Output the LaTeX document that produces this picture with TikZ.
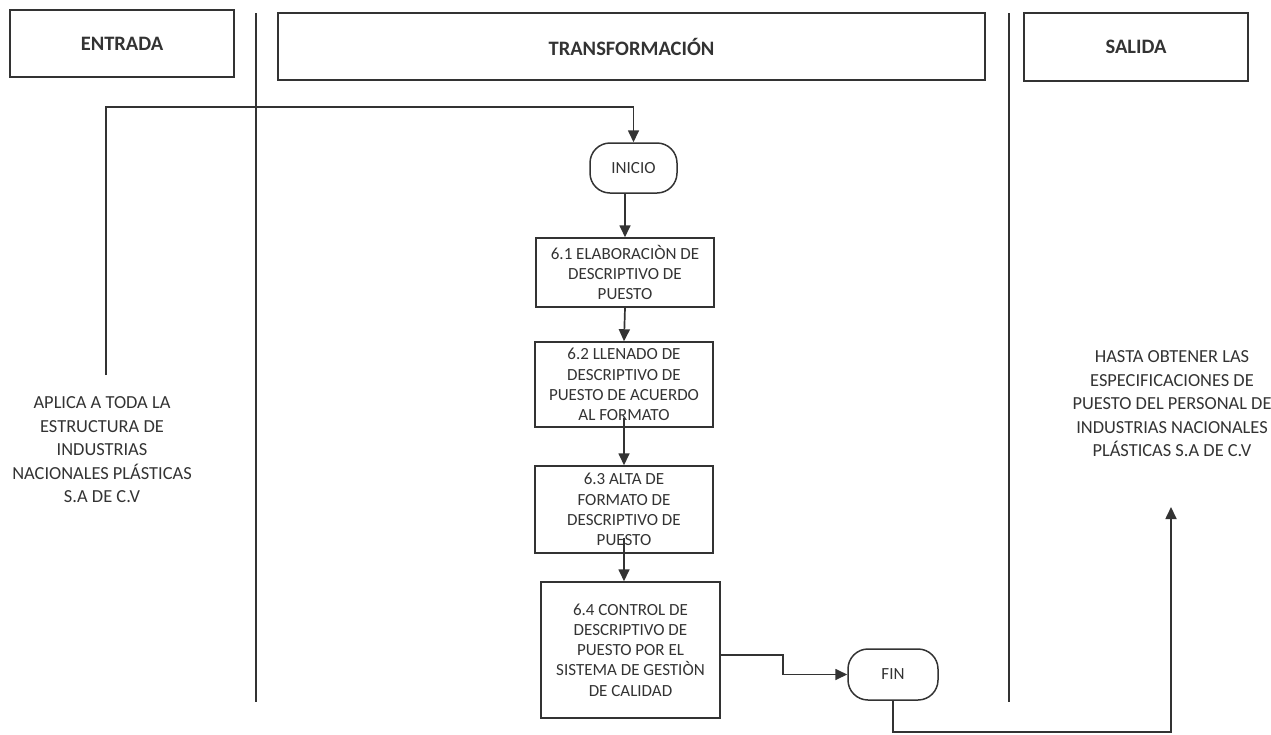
\documentclass[tikz,border=0pt]{standalone}
\usepackage{fontspec}
\setmainfont{Carlito}
\usetikzlibrary{arrows.meta}
\usetikzlibrary{calc}
\colorlet{ink}{black!80}
\tikzstyle{hdr}=[draw=ink,line width=1.5pt,inner sep=0pt,text=ink,font=\fontsize{20.5}{24}\selectfont\bfseries]
\tikzstyle{stepbox}=[draw=ink,line width=1.5pt,inner sep=0pt,align=center,text=ink,font=\fontsize{17}{20.3}\selectfont]
\tikzstyle{term}=[stepbox,rounded corners=20pt]
\tikzstyle{note}=[align=center,text=ink,font=\fontsize{18.4}{23.5}\selectfont]
\tikzstyle{lane}=[line width=1.5pt,draw=ink]
\tikzstyle{arr}=[line width=1.7pt,draw=ink,-{Triangle[length=12pt,width=11pt]}]

\begin{document}
\begin{tikzpicture}[x=1pt,y=-1pt]
	\useasboundingbox (0,0) rectangle (1271,734);
	\node[hdr,minimum width=224pt,minimum height=67pt] (ent) at (122,43.5) {ENTRADA};
	\node[hdr,minimum width=707pt,minimum height=67pt] (tra) at (631.5,46.5) {TRANSFORMACIÓN};
	\node[hdr,minimum width=224pt,minimum height=68pt] (sal) at (1136,47) {SALIDA};
	\draw[lane] (256,13) -- (256,702);
	\draw[lane] (1009,13) -- (1009,702);
	%
	\node[note] (aplica) at (102,450) {APLICA A TODA LA\\ESTRUCTURA DE\\INDUSTRIAS\\NACIONALES PLÁSTICAS\\S.A DE C.V};
	\node[note] (hasta) at (1172,404) {HASTA OBTENER LAS\\ESPECIFICACIONES DE\\PUESTO DEL PERSONAL DE\\INDUSTRIAS NACIONALES\\PLÁSTICAS S.A DE C.V};
	%
	\node[term,minimum width=87pt,minimum height=50pt] (inicio) at (633.5,168) {INICIO};
	\node[stepbox,minimum width=178pt,minimum height=69pt] (p61) at (625,272.5) {6.1 ELABORACIÒN DE\\DESCRIPTIVO DE\\PUESTO};
	\node[stepbox,minimum width=178pt,minimum height=85pt] (p62) at (624,384.5) {6.2 LLENADO DE\\DESCRIPTIVO DE\\PUESTO DE ACUERDO\\AL FORMATO};
	\node[stepbox,minimum width=178pt,minimum height=87pt] (p63) at (624,509.5) {6.3 ALTA DE\\FORMATO DE\\DESCRIPTIVO DE\\PUESTO};
	\node[stepbox,minimum width=179pt,minimum height=136pt] (p64) at (630.5,650) {6.4 CONTROL DE\\DESCRIPTIVO DE\\PUESTO POR EL\\SISTEMA DE GESTIÒN\\DE CALIDAD};
	\node[term,minimum width=90pt,minimum height=51pt] (fin) at (893,674.5) {FIN};
%
	\coordinate (e0) at (106,375);
	\coordinate (e1) at (106,107);
	\coordinate (s0) at (1171,732);
	\coordinate (s1) at (1171,507);
	\draw[arr] (e0) -- (e1) -| (inicio.north);
	\draw[arr] (inicio.south -| p61.north) -- (p61.north);
	\draw[arr] (p61.south) -- (p62.north);
	\draw[arr] ([yshift=10pt]p62.south) -- (p63.north);
	\draw[arr] ([yshift=16pt]p63.south) -- (p64.north -| p63.south);
	\draw[arr] ([yshift=-5pt]p64.east) -- ++(62,0) |- (fin.west);
	\draw[arr] (fin.south) |- (s0) -- (s1);
\end{tikzpicture}
\end{document}
